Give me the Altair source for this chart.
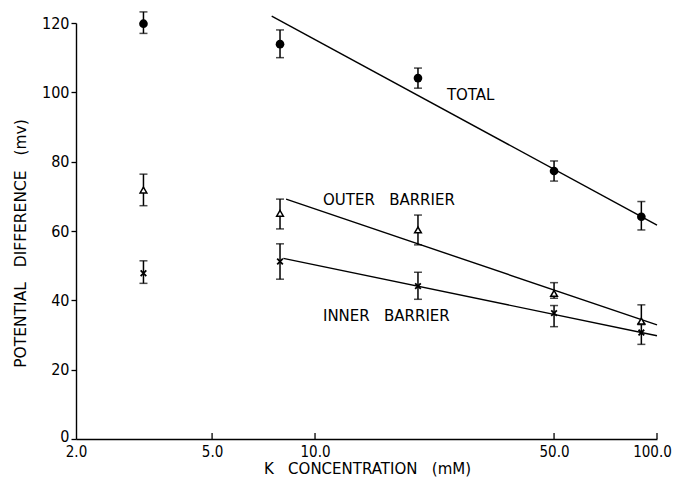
import altair as alt
import pandas as pd

# ---- data ----
conc = [3.15, 7.9, 20, 50, 90]
total_mean = [119.8, 113.9, 104.1, 77.3, 64.1]
total_lo = [117.0, 110.0, 101.2, 74.4, 60.3]
total_hi = [123.2, 118.0, 107.0, 80.2, 68.5]
outer_mean = [71.8, 65.1, 60.3, 42.0, 34.0]
outer_lo = [67.3, 60.6, 56.0, 40.6, 33.3]
outer_hi = [76.4, 69.2, 64.6, 45.1, 38.7]
inner_mean = [47.8, 51.2, 44.1, 36.3, 30.7]
inner_lo = [44.9, 46.1, 40.3, 32.4, 27.3]
inner_hi = [51.4, 56.3, 48.1, 38.5, 33.0]

fit_series = ["TOTAL", "TOTAL", "OUTER", "OUTER", "INNER", "INNER"]
fit_x = [7.47, 100, 8.23, 100, 8.08, 100]
fit_y = [122.0, 61.7, 69.2, 32.9, 52.1, 29.8]

x_ticks = [2, 5, 10, 50, 100]
y_ticks = [0, 20, 40, 60, 80, 100, 120]

NB = "\u00a0"
label_text = ["TOTAL", "OUTER" + NB * 3 + "BARRIER", "INNER" + NB * 3 + "BARRIER"]
label_x = [24.3, 10.55, 10.55]
label_y = [99.2, 68.9, 35.5]

rows = []
for name, m, lo, hi in [("TOTAL", total_mean, total_lo, total_hi),
                        ("OUTER", outer_mean, outer_lo, outer_hi),
                        ("INNER", inner_mean, inner_lo, inner_hi)]:
    for c, a, b, d in zip(conc, m, lo, hi):
        rows.append({"series": name, "conc": c, "mean": a, "lo": b, "hi": d})
pts = pd.DataFrame(rows)
fits = pd.DataFrame({"series": fit_series, "conc": fit_x, "pd": fit_y})
labels = pd.DataFrame({"text": label_text, "conc": label_x, "pd": label_y})
ticks_df = pd.DataFrame({"conc": x_ticks[1:]})

TICKFONT = "DejaVu Sans Condensed, Liberation Sans Narrow, sans-serif"
FONT = "DejaVu Sans, sans-serif"
W, H = 581, 416

xs = alt.Scale(type="log", domain=[2, 100], nice=False)
ys = alt.Scale(domain=[0, 120], nice=False)

xaxis = alt.Axis(values=x_ticks, format=".1f", ticks=False, grid=False,
                 labelPadding=5, labelFontSize=15, labelFont=TICKFONT,
                 labelColor="black", domainColor="black", domainWidth=1.4,
                 labelOffset={"condition": {"test": "datum.value >= 100", "value": -5},
                              "value": 0},
                 title="K" + NB * 3 + "CONCENTRATION" + NB * 3 + "(mM)",
                 titleFont=FONT, titleFontSize=15, titleFontWeight="normal",
                 titleColor="black", titleX=291, titleY=29,
                 titleBaseline="middle", titleAlign="center", labelFlush=False,
                 labelOverlap=False)
yaxis = alt.Axis(values=y_ticks, grid=False, tickSize=5, tickColor="black",
                 tickWidth=1.3, labelPadding=2, labelFontSize=16, labelFont=TICKFONT,
                 labelColor="black", domainColor="black", domainWidth=1.4,
                 labelOffset={"condition": {"test": "datum.value == 0", "value": -3},
                              "value": 0},
                 title="POTENTIAL" + NB * 3 + "DIFFERENCE" + NB * 3 + "(mv)",
                 titleFont=FONT, titleFontSize=15.5, titleFontWeight="normal",
                 titleColor="black", titleX=-56, titleY=220,
                 titleAlign="center", titleBaseline="middle", labelFlush=False,
                 labelOverlap=False)

base = alt.Chart(pts)

bars = base.mark_rule(color="black", strokeWidth=1.5).encode(
    x=alt.X("conc:Q", scale=xs, axis=xaxis),
    y=alt.Y("lo:Q", scale=ys, axis=yaxis),
    y2="hi:Q",
)
cap_lo = base.mark_tick(orient="horizontal", color="black", size=8, thickness=1.5).encode(
    x=alt.X("conc:Q", scale=xs), y=alt.Y("lo:Q", scale=ys))
cap_hi = base.mark_tick(orient="horizontal", color="black", size=8, thickness=1.5).encode(
    x=alt.X("conc:Q", scale=xs), y=alt.Y("hi:Q", scale=ys))

total_pts = base.transform_filter(alt.datum.series == "TOTAL").mark_point(
    shape="circle", filled=True, color="black", size=75, opacity=1).encode(
    x=alt.X("conc:Q", scale=xs), y=alt.Y("mean:Q", scale=ys))
outer_pts = base.transform_filter(alt.datum.series == "OUTER").mark_point(
    shape="triangle-up", filled=True, fill="white", stroke="black", strokeWidth=1.5,
    size=45, opacity=1).encode(
    x=alt.X("conc:Q", scale=xs), y=alt.Y("mean:Q", scale=ys))
inner_pts = base.transform_filter(alt.datum.series == "INNER").mark_point(
    shape="M-1,-1L1,1M-1,1L1,-1", filled=False, stroke="black", strokeWidth=1.8,
    size=32, opacity=1).encode(
    x=alt.X("conc:Q", scale=xs), y=alt.Y("mean:Q", scale=ys))

lines = alt.Chart(fits).mark_line(color="black", strokeWidth=1.4).encode(
    x=alt.X("conc:Q", scale=xs), y=alt.Y("pd:Q", scale=ys), detail="series:N")

texts = alt.Chart(labels).mark_text(align="left", baseline="middle", font=FONT,
                                    fontSize=15, color="black").encode(
    x=alt.X("conc:Q", scale=xs), y=alt.Y("pd:Q", scale=ys), text="text:N")

inner_ticks = alt.Chart(ticks_df).mark_rule(color="black", strokeWidth=1.3).encode(
    x=alt.X("conc:Q", scale=xs), y=alt.value(H), y2=alt.value(H - 6))

chart = alt.layer(bars, cap_lo, cap_hi, lines, total_pts, outer_pts, inner_pts,
                  texts, inner_ticks).properties(
    width=W, height=H,
    autosize=alt.AutoSizeParams(type="none"),
    padding={"left": 68, "top": 15, "right": 15, "bottom": 38},
    background="white",
).configure_view(stroke=None)

chart.save("out.html", embed_options={"renderer": "svg", "actions": False})
